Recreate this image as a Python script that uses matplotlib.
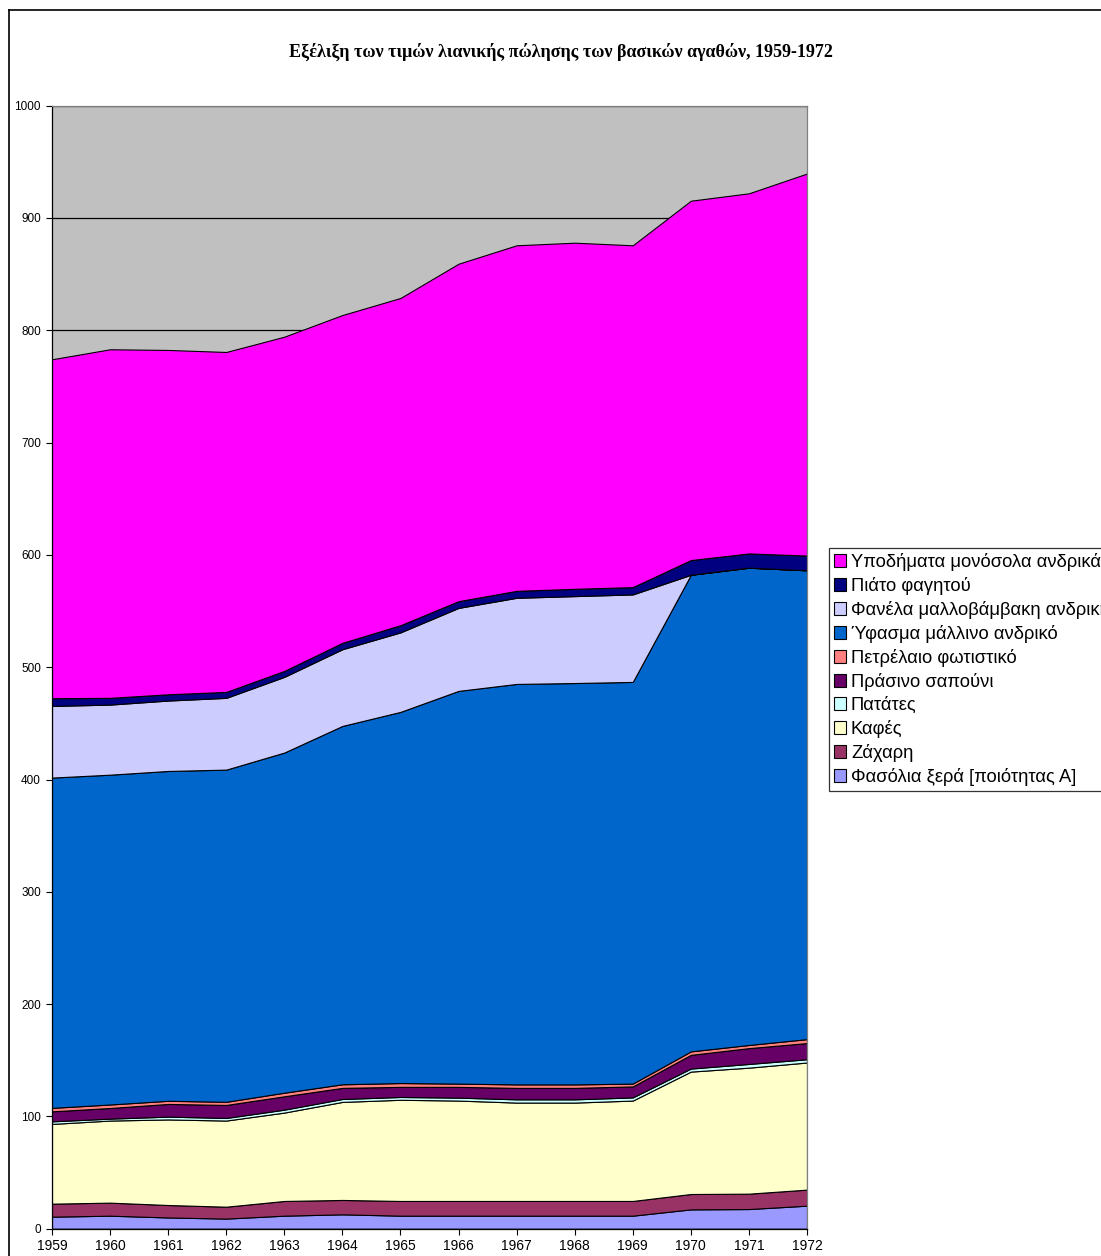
import matplotlib
matplotlib.use("Agg")
import matplotlib.pyplot as plt
from matplotlib.lines import Line2D
from matplotlib.patches import Patch
import numpy as np

years = [1959, 1960, 1961, 1962, 1963, 1964, 1965, 1966, 1967, 1968, 1969, 1970, 1971, 1972]

fasolia = [10.7, 11.6, 10.0, 9.0, 11.6, 12.8, 11.6, 11.6, 11.6, 11.6, 11.6, 17.2, 17.5, 20.5]
zachari = [11.6, 11.6, 11.1, 10.6, 13.1, 12.8, 13.1, 13.1, 13.1, 13.1, 13.1, 13.7, 13.7, 14.3]
kafes = [71.0, 73.1, 76.2, 76.7, 78.7, 87.3, 90.1, 89.4, 87.6, 87.6, 89.4, 109.0, 112.2, 113.2]
patates = [2.3, 1.7, 2.5, 2.3, 2.6, 2.6, 2.5, 2.6, 2.9, 2.9, 2.8, 2.7, 3.3, 2.9]
sapouni = [8.9, 9.5, 11.3, 11.6, 11.9, 9.9, 9.0, 9.6, 10.2, 10.2, 9.8, 12.2, 14.1, 14.4]
petrelaio = [3.1, 3.1, 2.8, 2.8, 3.2, 3.2, 3.4, 2.9, 3.1, 3.1, 2.5, 3.1, 2.8, 3.5]
yfasma = [294.1, 293.7, 293.7, 295.8, 302.9, 319.1, 330.5, 349.7, 356.6, 357.4, 357.7, 424.4, 425.0, 417.5]
fanela = [63.8, 62.4, 62.7, 63.9, 67.4, 68.3, 70.8, 73.9, 76.7, 77.4, 77.9, 0.0, 0.0, 0.0]
piato = [6.9, 6.0, 5.6, 5.3, 5.3, 5.7, 6.4, 6.0, 6.2, 6.5, 6.5, 13.1, 12.7, 13.1]
ypodimata = [301.8, 310.4, 306.6, 302.7, 297.6, 291.9, 291.4, 300.5, 307.7, 308.2, 304.4, 320.0, 320.7, 340.2]

labels = ["Φασόλια ξερά [ποιότητας Α]", "Ζάχαρη", "Καφές", "Πατάτες", "Πράσινο σαπούνι",
          "Πετρέλαιο φωτιστικό", "Ύφασμα μάλλινο ανδρικό", "Φανέλα μαλλοβάμβακη ανδρική",
          "Πιάτο φαγητού", "Υποδήματα μονόσολα ανδρικά"]
series = [fasolia, zachari, kafes, patates, sapouni, petrelaio, yfasma, fanela, piato, ypodimata]
colors = ["#9999FF", "#993366", "#FFFFCC", "#CCFFFF", "#660066",
          "#FF8080", "#0066CC", "#CCCCFF", "#000080", "#FF00FF"]

title = "Εξέλιξη των τιμών λιανικής πώλησης των βασικών αγαθών, 1959-1972"

W, H = 1101, 1256
fig = plt.figure(figsize=(W / 100, H / 100), dpi=100)
fig.patch.set_facecolor("white")

left = 52 / W
right = 807 / W
top = 1 - 105.7 / H
bottom = 1 - 1228.7 / H
ax = fig.add_axes([left, bottom, right - left, top - bottom])
ax.set_facecolor("#C0C0C0")

ax.stackplot(years, *series, colors=colors, edgecolor="black", linewidth=0.8, zorder=2)

ax.set_xlim(years[0], years[-1])
ax.set_ylim(0, 1000)
ax.set_xticks(years)
ax.set_xticklabels([str(y) for y in years], fontsize=10, family="Liberation Sans")
ax.set_yticks(np.arange(0, 1001, 100))
ax.set_yticklabels([str(v) for v in range(0, 1001, 100)], fontsize=8.5, family="Liberation Sans")
ax.tick_params(axis="both", direction="out", length=4, width=0.8, colors="black")
ax.tick_params(axis="x", pad=3.5)
ax.tick_params(axis="y", pad=4)

ax.set_axisbelow(True)
ax.yaxis.grid(True, color="black", linewidth=0.9)
ax.xaxis.grid(False)

for s in ["left", "bottom"]:
    ax.spines[s].set_color("black")
    ax.spines[s].set_linewidth(0.9)
for s in ["top", "right"]:
    ax.spines[s].set_color("#808080")
    ax.spines[s].set_linewidth(0.9)

fig.text(561 / W, 1 - 52 / H, title, ha="center", va="center",
         fontsize=13, fontweight="bold", family="Liberation Serif")

handles = [Patch(facecolor=c, edgecolor="black", linewidth=0.8) for c in colors]
leg = fig.legend(handles[::-1], labels[::-1], loc="upper left",
                 bbox_to_anchor=(829 / W, 1 - 548 / H), bbox_transform=fig.transFigure,
                 prop={"family": "Liberation Sans", "size": 13.2},
                 frameon=True, fancybox=False, shadow=False,
                 handlelength=0.7, handleheight=0.7, handletextpad=0.25,
                 labelspacing=0.33, borderpad=0.25, borderaxespad=0.0)
leg.get_frame().set_edgecolor("black")
leg.get_frame().set_linewidth(0.9)
leg.get_frame().set_facecolor("white")

# outer chart border (extends beyond the image)
x0 = 9 / W
y0 = 1 - 10 / H
fig.add_artist(Line2D([x0, x0], [y0, -0.1], transform=fig.transFigure, color="black", linewidth=1.2))
fig.add_artist(Line2D([x0, 1.1], [y0, y0], transform=fig.transFigure, color="black", linewidth=1.2))

fig.savefig("out.png", dpi=100)
